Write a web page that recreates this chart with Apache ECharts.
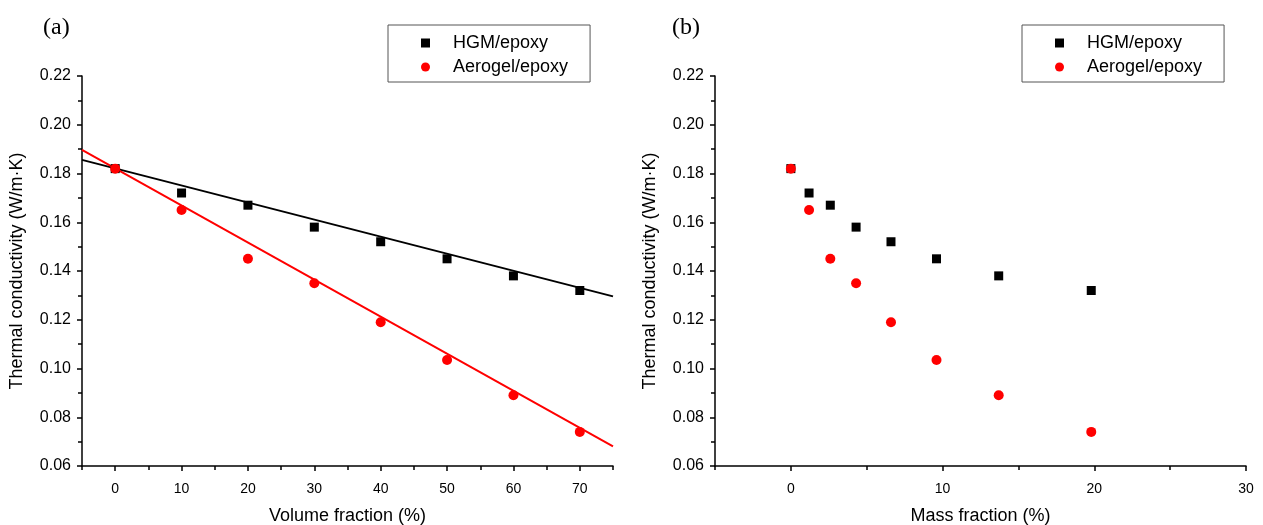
<!DOCTYPE html>
<html>
<head>
<meta charset="utf-8">
<script src="https://cdn.jsdelivr.net/npm/echarts@6/dist/echarts.min.js"></script>
<style>
  html, body { margin: 0; padding: 0; background: #fff; }
  #chart { width: 1263px; height: 525px; }
</style>
</head>
<body>
<div id="chart"></div>
<script>
// values
const volumeFraction = [0, 10, 20, 30, 40, 50, 60, 70]
const massFraction = [0, 1.2, 2.6, 4.3, 6.6, 9.6, 13.7, 19.8]
const hgmK = [0.182, 0.172, 0.167, 0.158, 0.152, 0.145, 0.138, 0.132]
const aerogelK = [0.182, 0.165, 0.145, 0.135, 0.119, 0.1035, 0.089, 0.074]
// linear fits in panel (a), endpoints at the axis limits
const hgmFit = [[-5, 0.1856], [75, 0.1296]]
const aerogelFit = [[-5, 0.1897], [75, 0.0681]]
const volumeTicks = [0, 10, 20, 30, 40, 50, 60, 70]
const volumeMinor = [-5, 5, 15, 25, 35, 45, 55, 65, 75]
const massTicks = [0, 10, 20, 30]
const massMinor = [-5, 5, 15, 25]

const FONT = 'Liberation Sans'
const chart = echarts.init(document.getElementById('chart'))

function pairs(xs, ys) {
  return xs.map((x, i) => [x, ys[i]])
}

function xAxes(gridIndex, min, max, ticks, minor, name) {
  return [
    {
      type: 'value', gridIndex: gridIndex, min: min, max: max, position: 'bottom',
      name: name, nameLocation: 'middle', nameGap: 41,
      nameTextStyle: { fontFamily: FONT, fontSize: 18, color: '#000' },
      axisLine: { onZero: false, lineStyle: { color: '#000', width: 1.5 } },
      axisTick: { customValues: ticks, length: 5, lineStyle: { color: '#000', width: 1.5 } },
      axisLabel: { customValues: ticks, fontFamily: FONT, fontSize: 14, color: '#000', margin: 16 },
      splitLine: { show: false }
    },
    {
      type: 'value', gridIndex: gridIndex, min: min, max: max, position: 'bottom',
      axisLine: { show: false },
      axisTick: { customValues: minor, length: 4, lineStyle: { color: '#000', width: 1.5 } },
      axisLabel: { show: false },
      splitLine: { show: false }
    }
  ]
}

function yAxis(gridIndex) {
  return {
    type: 'value', gridIndex: gridIndex, min: 0.06, max: 0.22, interval: 0.02,
    name: 'Thermal conductivity (W/m·K)', nameLocation: 'middle', nameGap: 56,
    nameTextStyle: { fontFamily: FONT, fontSize: 18, color: '#000' },
    axisLine: { show: true, onZero: false, lineStyle: { color: '#000', width: 1.5 } },
    axisTick: { show: true, length: 5, lineStyle: { color: '#000', width: 1.5 } },
    minorTick: { show: true, splitNumber: 2, length: 4, lineStyle: { color: '#000', width: 1.5 } },
    axisLabel: { fontFamily: FONT, fontSize: 16, color: '#000', margin: 11,
      formatter: v => v.toFixed(2) },
    splitLine: { show: false }
  }
}

function legend(left) {
  return {
    orient: 'vertical', left: left, top: 25,
    padding: [9, 22, 6, 33],
    itemWidth: 9, itemHeight: 9, itemGap: 6,
    borderColor: '#555', borderWidth: 1,
    textStyle: { fontFamily: FONT, fontSize: 18, color: '#000', padding: [0, 0, 0, 18] },
    data: [
      { name: 'HGM/epoxy', icon: 'rect' },
      { name: 'Aerogel/epoxy', icon: 'circle', itemStyle: { color: '#ff0000' } }
    ]
  }
}

const titleStyle = { fontFamily: 'Liberation Serif', fontSize: 24, fontWeight: 'normal', color: '#000' }

const option = {
  animation: false,
  title: [
    { text: '(a)', left: 38, top: 11, textStyle: titleStyle },
    { text: '(b)', left: 667, top: 11, textStyle: titleStyle }
  ],
  legend: [legend(388), legend(1022)],
  grid: [
    { left: 82, right: 650, top: 76, bottom: 59, outerBoundsMode: 'none' },
    { left: 715, right: 17, top: 76, bottom: 59, outerBoundsMode: 'none' }
  ],
  xAxis: [
    ...xAxes(0, -5, 75, volumeTicks, volumeMinor, 'Volume fraction (%)'),
    ...xAxes(1, -5, 30, massTicks, massMinor, 'Mass fraction (%)')
  ],
  yAxis: [yAxis(0), yAxis(1)],
  series: [
    { type: 'line', xAxisIndex: 0, yAxisIndex: 0, data: hgmFit, showSymbol: false,
      lineStyle: { color: '#000', width: 2 }, silent: true, z: 1 },
    { type: 'line', xAxisIndex: 0, yAxisIndex: 0, data: aerogelFit, showSymbol: false,
      lineStyle: { color: '#ff0000', width: 2 }, silent: true, z: 1 },
    { name: 'HGM/epoxy', type: 'scatter', xAxisIndex: 0, yAxisIndex: 0,
      data: pairs(volumeFraction, hgmK), symbol: 'rect', symbolSize: 9,
      itemStyle: { color: '#000', opacity: 1 }, z: 3 },
    { name: 'Aerogel/epoxy', type: 'scatter', xAxisIndex: 0, yAxisIndex: 0,
      data: pairs(volumeFraction, aerogelK), symbol: 'circle', symbolSize: 10,
      itemStyle: { color: '#ff0000', opacity: 1 }, z: 4 },
    { name: 'HGM/epoxy', type: 'scatter', xAxisIndex: 2, yAxisIndex: 1,
      data: pairs(massFraction, hgmK), symbol: 'rect', symbolSize: 9,
      itemStyle: { color: '#000', opacity: 1 }, z: 3 },
    { name: 'Aerogel/epoxy', type: 'scatter', xAxisIndex: 2, yAxisIndex: 1,
      data: pairs(massFraction, aerogelK), symbol: 'circle', symbolSize: 10,
      itemStyle: { color: '#ff0000', opacity: 1 }, z: 4 }
  ]
}

chart.setOption(option)
</script>
</body>
</html>
